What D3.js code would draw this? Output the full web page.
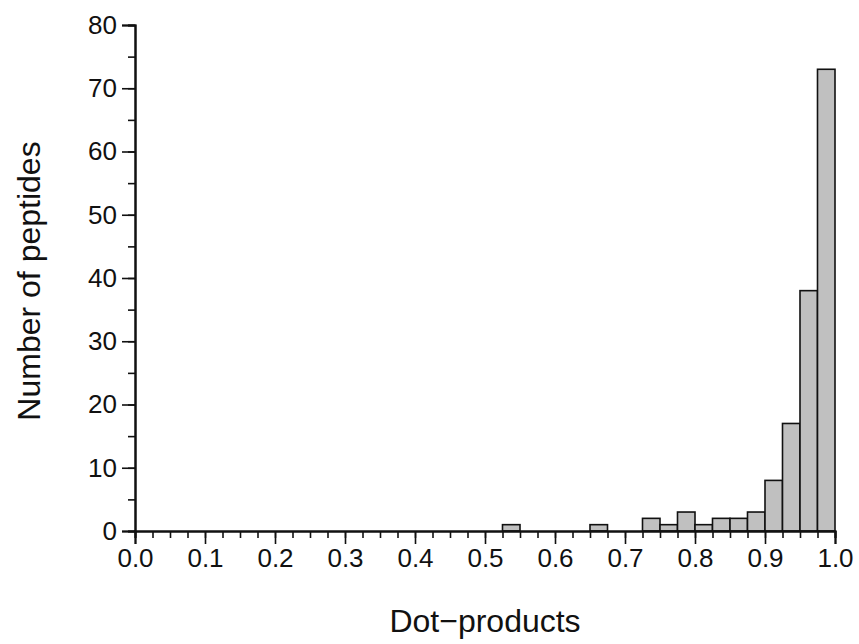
<!DOCTYPE html>
<html>
<head>
<meta charset="utf-8">
<script src="https://cdn.jsdelivr.net/npm/d3@7"></script>
<style>
  body { margin: 0; background: #fff; }
  svg text { font-family: "Liberation Sans", Arial, sans-serif; fill: #111; }
</style>
</head>
<body>
<svg id="chart" width="859" height="644"></svg>
<script>
// histogram bins (start of bin, width 0.025) and counts
var binStarts = [0.525, 0.65, 0.725, 0.75, 0.775, 0.8, 0.825, 0.85, 0.875, 0.9, 0.925, 0.95, 0.975];
var counts    = [1,     1,    2,     1,    3,     1,   2,     2,    3,     8,   17,    38,   73];
var binWidth = 0.025;
var xTicks = [0, 0.1, 0.2, 0.3, 0.4, 0.5, 0.6, 0.7, 0.8, 0.9, 1.0];
var yTicks = [0, 10, 20, 30, 40, 50, 60, 70, 80];

var margin = {left: 135, right: 24, top: 25, bottom: 113};
var svg = d3.select('#chart');
var width = 859 - margin.left - margin.right,
    height = 644 - margin.top - margin.bottom;

var x = d3.scaleLinear().domain([0, 1]).range([0, width]);
var y = d3.scaleLinear().domain([0, 80]).range([height, 0]);

var g = svg.append('g').attr('transform', 'translate(' + margin.left + ',' + margin.top + ')');

var bins = binStarts.map(function(s, i) { return {x0: s, x1: s + binWidth, n: counts[i]}; });

g.selectAll('rect.bar')
  .data(bins)
  .enter()
  .append('rect')
  .classed('bar', true)
  .attr('x', function(d) { return x(d.x0); })
  .attr('y', function(d) { return y(d.n); })
  .attr('width', function(d) { return x(d.x1) - x(d.x0); })
  .attr('height', function(d) { return y(0) - y(d.n); })
  .attr('fill', '#c0c0c0')
  .attr('stroke', '#111')
  .attr('stroke-width', 1.6);

// minor ticks
var xMinor = d3.range(0, 41).map(function(i) { return i * binWidth; });
var yMinor = d3.range(0, 17).map(function(i) { return i * 5; });

var xMinorAxis = g.append('g')
  .attr('transform', 'translate(0,' + height + ')')
  .call(d3.axisBottom(x).tickValues(xMinor).tickSize(7).tickFormat(''));
var yMinorAxis = g.append('g')
  .call(d3.axisLeft(y).tickValues(yMinor).tickSize(7).tickFormat(''));

var xAxis = g.append('g')
  .attr('transform', 'translate(0,' + height + ')')
  .call(d3.axisBottom(x).tickValues(xTicks).tickSize(13).tickPadding(5).tickFormat(d3.format('.1f')));
var yAxis = g.append('g')
  .call(d3.axisLeft(y).tickValues(yTicks).tickSize(13).tickPadding(5).tickFormat(d3.format('d')));

[xMinorAxis, yMinorAxis, xAxis, yAxis].forEach(function(a) {
  a.selectAll('path.domain').attr('stroke', '#111').attr('stroke-width', 2);
  a.selectAll('line').attr('stroke', '#111').attr('stroke-width', 1.6);
  a.selectAll('text').attr('font-size', 26).attr('fill', '#111');
});

svg.append('text')
  .attr('x', margin.left + width / 2)
  .attr('y', 632)
  .attr('text-anchor', 'middle')
  .attr('font-size', 32)
  .text('Dot\u2212products');

svg.append('text')
  .attr('transform', 'translate(40,' + (margin.top + height / 2 + 3) + ') rotate(-90)')
  .attr('text-anchor', 'middle')
  .attr('font-size', 32)
  .text('Number of peptides');
</script>
</body>
</html>
